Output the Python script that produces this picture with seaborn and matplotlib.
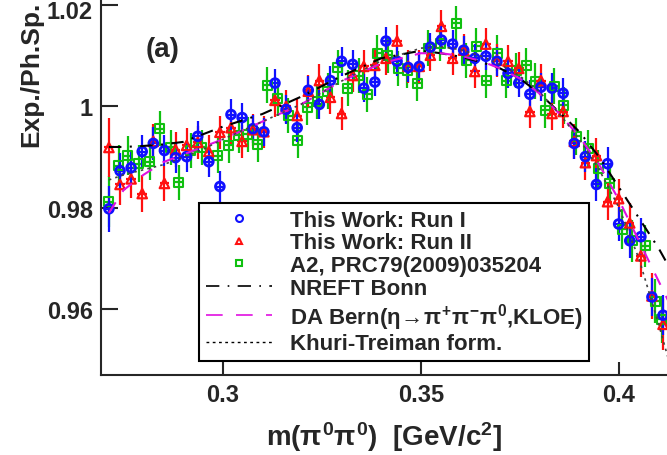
import matplotlib
matplotlib.use("Agg")
import matplotlib.pyplot as plt
from matplotlib.lines import Line2D
from matplotlib.transforms import ScaledTranslation
import seaborn as sns

# bin centres shared by the two runs of this work [GeV/c^2]
run_x = [0.2713, 0.2741, 0.2769, 0.2797, 0.2825, 0.2853, 0.2881, 0.2909, 0.2937, 0.2965,
         0.2993, 0.3021, 0.3049, 0.3076, 0.3104, 0.3132, 0.3160, 0.3188, 0.3216, 0.3244,
         0.3272, 0.3300, 0.3328, 0.3356, 0.3384, 0.3412, 0.3440, 0.3468, 0.3496, 0.3524,
         0.3552, 0.3580, 0.3608, 0.3636, 0.3664, 0.3692, 0.3720, 0.3747, 0.3775, 0.3803,
         0.3831, 0.3859, 0.3887, 0.3915, 0.3943, 0.3971, 0.3999, 0.4027, 0.4055, 0.4083, 0.4111]

run1_y = [0.9798, 0.9873, 0.9879, 0.9911, 0.9927, 0.9913, 0.9899, 0.9901, 0.9941, 0.9891,
          0.9842, 0.9984, 0.9978, 0.9956, 0.9950, 1.0046, 0.9994, 0.9958, 1.0032, 1.0004,
          1.0051, 1.0089, 1.0083, 1.0036, 1.0048, 1.0129, 1.0089, 1.0077, 1.0079, 1.0117,
          1.0131, 1.0123, 1.0111, 1.0095, 1.0099, 1.0089, 1.0065, 1.0046, 1.0024, 1.0038,
          1.0036, 1.0026, 0.9927, 0.9901, 0.9846, 0.9887, 0.9768, 0.9735, 0.9743, 0.9624, 0.9588]
run1_err = [0.0045, 0.0035, 0.0033, 0.0032, 0.0032, 0.0030, 0.0030, 0.0030, 0.0030, 0.0030,
            0.0030, 0.0030, 0.0028, 0.0028, 0.0028, 0.0028, 0.0028, 0.0028, 0.0028, 0.0028,
            0.0028, 0.0028, 0.0028, 0.0028, 0.0028, 0.0028, 0.0028, 0.0028, 0.0028, 0.0028,
            0.0028, 0.0028, 0.0028, 0.0028, 0.0028, 0.0028, 0.0028, 0.0028, 0.0028, 0.0028,
            0.0030, 0.0030, 0.0030, 0.0030, 0.0032, 0.0032, 0.0034, 0.0035, 0.0036, 0.0038, 0.0040]

run2_y = [0.9919, 0.9846, 0.9857, 0.9828, 0.9931, 0.9848, 0.9915, 0.9923, 0.9929, 0.9911,
          0.9949, 0.9958, 0.9931, 0.9954, 0.9950, 1.0012, 1.0000, 0.9982, 1.0030, 1.0051,
          1.0018, 0.9986, 1.0061, 1.0079, 1.0081, 1.0095, 1.0129, 1.0079, 1.0079, 1.0101,
          1.0158, 1.0095, 1.0111, 1.0069, 1.0123, 1.0091, 1.0089, 1.0075, 0.9990, 1.0051,
          0.9986, 0.9990, 0.9931, 0.9889, 0.9903, 0.9812, 0.9818, 0.9770, 0.9705, 0.9626, 0.9570]
run2_err = [0.0058, 0.0040, 0.0038, 0.0036, 0.0035, 0.0035, 0.0034, 0.0034, 0.0033, 0.0033,
            0.0033, 0.0033, 0.0032, 0.0032, 0.0032, 0.0032, 0.0032, 0.0032, 0.0032, 0.0032,
            0.0032, 0.0032, 0.0032, 0.0032, 0.0032, 0.0032, 0.0032, 0.0032, 0.0032, 0.0032,
            0.0032, 0.0032, 0.0032, 0.0032, 0.0032, 0.0032, 0.0032, 0.0032, 0.0032, 0.0032,
            0.0033, 0.0033, 0.0034, 0.0034, 0.0035, 0.0036, 0.0038, 0.0040, 0.0042, 0.0045, 0.0050]

# A2 data (PRC79(2009)035204)
a2_x = [0.2713, 0.2738, 0.2761, 0.2788, 0.2816, 0.2841, 0.2869, 0.2889, 0.2919, 0.2947,
        0.2987, 0.3015, 0.3040, 0.3063, 0.3088, 0.3113, 0.3139, 0.3166, 0.3189, 0.3214,
        0.3239, 0.3265, 0.3290, 0.3315, 0.3343, 0.3365, 0.3390, 0.3416, 0.3443, 0.3466,
        0.3491, 0.3519, 0.3549, 0.3589, 0.3615, 0.3640, 0.3665, 0.3693, 0.3715, 0.3741,
        0.3766, 0.3788, 0.3814, 0.3836, 0.3861, 0.3892, 0.3922, 0.3947, 0.3977, 0.4008,
        0.4033, 0.4066, 0.4091, 0.4108]
a2_y = [0.9812, 0.9883, 0.9903, 0.9887, 0.9891, 0.9956, 0.9919, 0.9850, 0.9913, 0.9919,
        0.9903, 0.9923, 0.9943, 0.9945, 0.9925, 1.0042, 1.0016, 0.9982, 0.9933, 0.9998,
        1.0010, 1.0030, 1.0077, 1.0036, 1.0061, 1.0024, 1.0105, 1.0101, 1.0075, 1.0071,
        1.0046, 1.0115, 1.0125, 1.0164, 1.0091, 1.0119, 1.0051, 1.0105, 1.0051, 1.0071,
        1.0081, 1.0050, 0.9992, 1.0040, 1.0002, 0.9941, 0.9917, 0.9877, 0.9848, 0.9758,
        0.9735, 0.9725, 0.9616, 0.9580]
a2_err = [0.0050, 0.0040, 0.0038, 0.0036, 0.0036, 0.0035, 0.0035, 0.0035, 0.0035, 0.0035,
          0.0035, 0.0035, 0.0035, 0.0035, 0.0035, 0.0035, 0.0035, 0.0035, 0.0035, 0.0035,
          0.0035, 0.0035, 0.0035, 0.0035, 0.0035, 0.0035, 0.0035, 0.0035, 0.0035, 0.0035,
          0.0035, 0.0035, 0.0035, 0.0035, 0.0035, 0.0035, 0.0035, 0.0035, 0.0035, 0.0035,
          0.0035, 0.0035, 0.0035, 0.0035, 0.0036, 0.0036, 0.0037, 0.0038, 0.0039, 0.0040,
          0.0041, 0.0042, 0.0044, 0.0046]
half_bin = 0.0012

# theory curves
theory_x = [0.2713, 0.275, 0.28, 0.285, 0.29, 0.295, 0.30, 0.31, 0.32, 0.33, 0.34, 0.35,
            0.355, 0.36, 0.365, 0.37, 0.375, 0.38, 0.385, 0.39, 0.395, 0.40, 0.405, 0.41, 0.4125]
nreft_y = [0.9920, 0.9920, 0.9922, 0.9925, 0.9930, 0.9945, 0.9960, 0.9985, 1.0020, 1.0060,
           1.0095, 1.0110, 1.0105, 1.0098, 1.0088, 1.0075, 1.0055, 1.0025, 0.9988, 0.9950,
           0.9900, 0.9840, 0.9780, 0.9720, 0.9685]
bern_y = [0.9790, 0.9835, 0.9865, 0.9890, 0.9905, 0.9920, 0.9935, 0.9970, 1.0005, 1.0050,
          1.0085, 1.0105, 1.0105, 1.0100, 1.0090, 1.0075, 1.0055, 1.0025, 0.9985, 0.9940,
          0.9885, 0.9815, 0.9735, 0.9655, 0.9615]
kt_y = [0.9855, 0.9865, 0.9875, 0.9885, 0.9900, 0.9915, 0.9935, 0.9970, 1.0005, 1.0050,
        1.0090, 1.0115, 1.0118, 1.0112, 1.0100, 1.0083, 1.0060, 1.0028, 0.9985, 0.9935,
        0.9875, 0.9800, 0.9700, 0.9570, 0.9500]

labels = ["This Work: Run I", "This Work: Run II", "A2, PRC79(2009)035204",
          "NREFT Bonn", r"DA Bern($\eta\!\rightarrow\!\pi^{+}\pi^{-}\pi^{0}$,KLOE)",
          "Khuri-Treiman form."]

blue, red, green, magenta = "#1010ff", "#ff1010", "#10c010", "#e010e0"

sns.set_style("ticks")
plt.rcParams["font.family"] = ["Liberation Sans", "DejaVu Sans"]
plt.rcParams["font.weight"] = "bold"
plt.rcParams["axes.labelweight"] = "bold"
plt.rcParams["mathtext.fontset"] = "custom"
plt.rcParams["mathtext.rm"] = "Liberation Sans:bold"
plt.rcParams["mathtext.it"] = "Liberation Sans:bold"
plt.rcParams["mathtext.bf"] = "Liberation Sans:bold"

fig = plt.figure(figsize=(6.67, 4.56), dpi=100)
ax = fig.add_axes([0.1514, 0.1754, 0.8486, 0.8246])

# error bars
for xs, ys, es, c in [(a2_x, a2_y, a2_err, green), (run_x, run2_y, run2_err, red),
                      (run_x, run1_y, run1_err, blue)]:
    ax.errorbar(xs, ys, yerr=es, xerr=half_bin, fmt="none", ecolor=c,
                elinewidth=1.6, capsize=0, zorder=2)

# markers
sns.scatterplot(x=a2_x, y=a2_y, marker="s", s=42, color="none", edgecolor=green,
                linewidth=1.5, ax=ax, zorder=3, legend=False)
sns.scatterplot(x=run_x, y=run2_y, marker="^", s=46, color="none", edgecolor=red,
                linewidth=1.6, ax=ax, zorder=3, legend=False)
sns.scatterplot(x=run_x, y=run1_y, marker="o", s=40, color="none", edgecolor=blue,
                linewidth=2, ax=ax, zorder=4, legend=False)

# theory lines
sns.lineplot(x=theory_x, y=nreft_y, color="k", lw=1.5, linestyle=(0, (6, 4, 1, 4)),
             ax=ax, zorder=5)
sns.lineplot(x=theory_x, y=bern_y, color=magenta, lw=1.5, linestyle=(0, (6, 6)),
             ax=ax, zorder=5)
sns.lineplot(x=theory_x, y=kt_y, color="#444444", lw=1.2, linestyle=(0, (1.5, 2.5)),
             ax=ax, zorder=5)

ax.set_xlim(0.2693, 0.4121)
ax.set_ylim(0.9470, 1.0212)
ax.set_xticks([0.3, 0.35, 0.4])
ax.set_xticklabels(["0.3", "0.35", "0.4"])
ax.set_yticks([0.96, 0.98, 1.0, 1.02])
ax.set_yticklabels(["0.96", "0.98", "1", "1.02"])
ax.tick_params(axis="both", direction="in", width=1.5, labelsize=17, pad=6)
ax.tick_params(axis="y", length=12)
ax.tick_params(axis="x", length=9.5)
for s in ["top", "right"]:
    ax.spines[s].set_visible(False)
for s in ["left", "bottom"]:
    ax.spines[s].set_linewidth(1.5)

# nudge the top tick label down a little so it stays inside the figure
top_lbl = ax.get_yticklabels()[-1]
top_lbl.set_transform(top_lbl.get_transform()
                      + ScaledTranslation(0, -3 / 72, fig.dpi_scale_trans))

ax.set_xlabel(r"m($\pi^{0}\pi^{0}$)  [GeV/c$^{2}$]", fontsize=20, fontweight="bold",
              labelpad=9)
ax.set_ylabel("Exp./Ph.Sp.", fontsize=19, fontweight="bold", ha="right")
ax.yaxis.set_label_coords(-0.102, 0.997)
ax.text(0.1095, 0.867, "(a)", transform=ax.transAxes, fontsize=20,
        fontweight="bold", ha="center", va="center")

handles = [
    Line2D([], [], ls="none", marker="o", mfc="none", mec=blue, mew=1.5, ms=5),
    Line2D([], [], ls="none", marker="^", mfc="none", mec=red, mew=1.5, ms=5),
    Line2D([], [], ls="none", marker="s", mfc="none", mec=green, mew=1.5, ms=5),
    Line2D([], [], color="k", lw=1.2, ls=(0, (8, 5, 1, 5))),
    Line2D([], [], color=magenta, lw=1.2, ls=(0, (10, 8))),
    Line2D([], [], color="k", lw=1.0, ls=(0, (2, 2.5))),
]
leg = ax.legend(handles, labels, loc="lower left", bbox_to_anchor=(0.1731, 0.0372),
                prop={"size": 16, "weight": "bold"}, frameon=True, fancybox=False,
                edgecolor="k", framealpha=1, borderpad=0.3, labelspacing=0.08,
                handlelength=3.0, handletextpad=0.8, borderaxespad=0)
leg.get_frame().set_linewidth(1.5)
leg.set_zorder(10)

fig.savefig("out.png", dpi=100)
